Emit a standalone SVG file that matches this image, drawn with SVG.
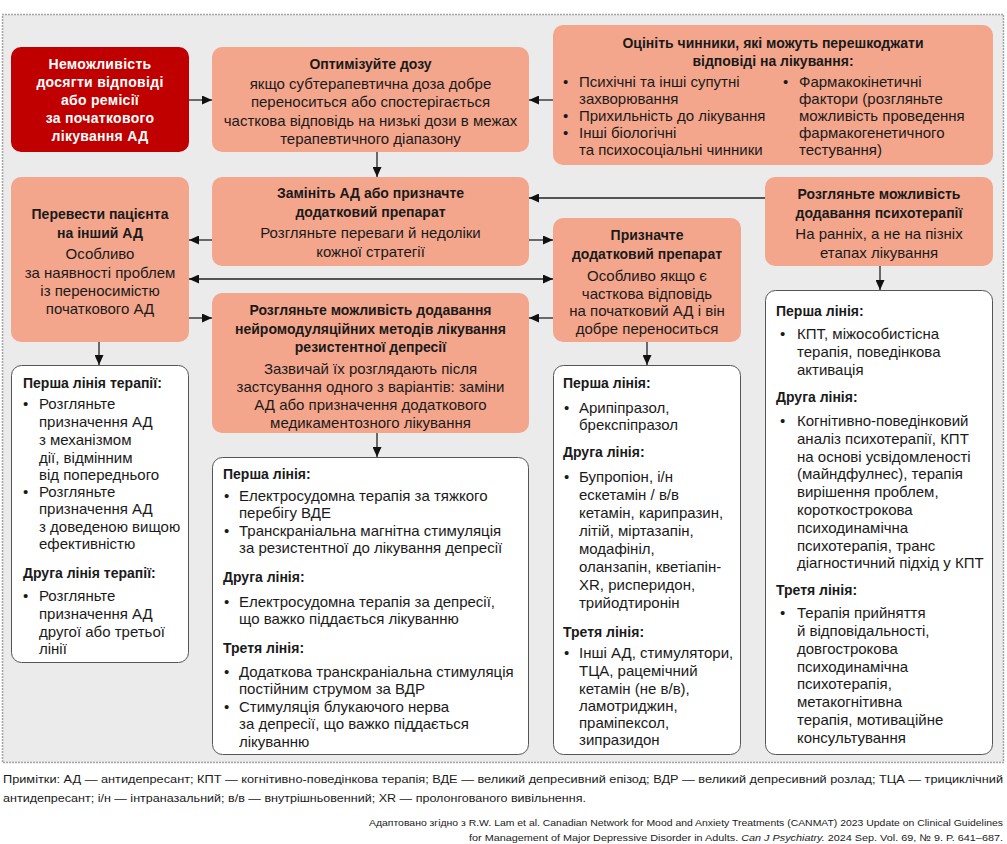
<svg xmlns="http://www.w3.org/2000/svg" width="1007" height="844" viewBox="0 0 1007 844">
<defs>
<style>
text{font-family:"Liberation Sans",Arial,sans-serif;font-size:15px;fill:#1a1a1a}
.h{font-weight:bold;font-size:14px}
.c{text-anchor:middle}
.wt{fill:#fff;letter-spacing:0.3px}
.sal{fill:#f4a68c}
.red{fill:#c00000}
.wb{fill:#fff;stroke:#555;stroke-width:1}
.con{fill:none;stroke:#222;stroke-width:1.3}
.foot{font-size:11.5px}
.cite{font-size:9.8px}
</style>
<marker id="ah" viewBox="0 0 10 9" refX="10" refY="4.5" markerWidth="10" markerHeight="9" markerUnits="userSpaceOnUse" orient="auto-start-reverse">
<path d="M0,0 L10,4.5 L0,9 z" fill="#111"/>
</marker>
</defs>
<rect x="0" y="0" width="1007" height="844" fill="#fff"/>
<rect x="2.5" y="14.5" width="1001" height="748" fill="#ebebeb" stroke="#555" stroke-width="1.5" stroke-dasharray="1 2"/>

<g id="n-start">
<rect class="red" x="11" y="47" width="178" height="105" rx="10"/>
<text class="h c wt"><tspan x="100" y="69">Неможливість</tspan><tspan x="100" y="87">досягти відповіді</tspan><tspan x="100" y="105">або ремісії</tspan><tspan x="100" y="123">за початкового</tspan><tspan x="100" y="141">лікування АД</tspan></text>
</g>

<g id="n-optimize">
<rect class="sal" x="212" y="47" width="317" height="105" rx="10"/>
<text class="h c" x="370.5" y="69">Оптимізуйте дозу</text>
<text class="c"><tspan x="370.5" y="89">якщо субтерапевтична доза добре</tspan><tspan x="370.5" y="107">переноситься або спостерігається</tspan><tspan x="370.5" y="126">часткова відповідь на низькі дози в межах</tspan><tspan x="370.5" y="144">терапевтичного діапазону</tspan></text>
</g>

<g id="n-factors">
<rect class="sal" x="553" y="25" width="440" height="140" rx="10"/>
<text class="h c"><tspan x="773" y="48">Оцініть чинники, які можуть перешкоджати</tspan><tspan x="773" y="66">відповіді на лікування:</tspan></text>
<text><tspan x="563" y="87">•</tspan><tspan x="563" y="121">•</tspan><tspan x="563" y="138">•</tspan><tspan x="783" y="87">•</tspan></text>
<text><tspan x="579" y="87">Психічні та інші супутні</tspan><tspan x="579" y="104">захворювання</tspan><tspan x="579" y="121">Прихильність до лікування</tspan><tspan x="579" y="138">Інші біологічні</tspan><tspan x="579" y="155">та психосоціальні чинники</tspan></text>
<text><tspan x="799" y="87">Фармакокінетичні</tspan><tspan x="799" y="104">фактори (розгляньте</tspan><tspan x="799" y="121">можливість проведення</tspan><tspan x="799" y="138">фармакогенетичного</tspan><tspan x="799" y="155">тестування)</tspan></text>
</g>

<g id="n-switch-or-add">
<rect class="sal" x="212" y="177" width="317" height="89" rx="10"/>
<text class="h c"><tspan x="370.5" y="198">Замініть АД або призначте</tspan><tspan x="370.5" y="217">додатковий препарат</tspan></text>
<text class="c"><tspan x="370.5" y="238">Розгляньте переваги й недоліки</tspan><tspan x="370.5" y="257">кожної стратегії</tspan></text>
</g>

<g id="n-switch">
<rect class="sal" x="11" y="177" width="178" height="165" rx="10"/>
<text class="h c"><tspan x="100" y="219">Перевести пацієнта</tspan><tspan x="100" y="238">на інший АД</tspan></text>
<text class="c"><tspan x="100" y="259">Особливо</tspan><tspan x="100" y="278">за наявності проблем</tspan><tspan x="100" y="296">із переносимістю</tspan><tspan x="100" y="314">початкового АД</tspan></text>
</g>

<g id="n-psychotherapy">
<rect class="sal" x="765" y="177" width="228" height="89" rx="10"/>
<text class="h c"><tspan x="879" y="199">Розгляньте можливість</tspan><tspan x="879" y="218">додавання психотерапії</tspan></text>
<text class="c"><tspan x="879" y="239">На ранніх, а не на пізніх</tspan><tspan x="879" y="258">етапах лікування</tspan></text>
</g>

<g id="n-add">
<rect class="sal" x="553" y="218" width="188" height="124" rx="10"/>
<text class="h c"><tspan x="647" y="240">Призначте</tspan><tspan x="647" y="259">додатковий препарат</tspan></text>
<text class="c"><tspan x="647" y="281">Особливо якщо є</tspan><tspan x="647" y="299">часткова відповідь</tspan><tspan x="647" y="316">на початковий АД і він</tspan><tspan x="647" y="334">добре переноситься</tspan></text>
</g>

<g id="n-neuromod">
<rect class="sal" x="212" y="293" width="317" height="140" rx="10"/>
<text class="h c"><tspan x="370.5" y="315">Розгляньте можливість додавання</tspan><tspan x="370.5" y="334">нейромодуляційних методів лікування</tspan><tspan x="370.5" y="352">резистентної депресії</tspan></text>
<text class="c"><tspan x="370.5" y="374">Зазвичай їх розглядають після</tspan><tspan x="370.5" y="392">застсування одного з варіантів: заміни</tspan><tspan x="370.5" y="410">АД або призначення додаткового</tspan><tspan x="370.5" y="428">медикаментозного лікування</tspan></text>
</g>

<g id="n-switch-list">
<rect class="wb" x="11.5" y="365.5" width="177" height="297" rx="10"/>
<text class="h"><tspan x="23" y="388">Перша лінія терапії:</tspan><tspan x="23" y="578">Друга лінія терапії:</tspan></text>
<text><tspan x="23" y="409">•</tspan><tspan x="23" y="497">•</tspan><tspan x="23" y="601">•</tspan></text>
<text><tspan x="39" y="409">Розгляньте</tspan><tspan x="39" y="427">призначення АД</tspan><tspan x="39" y="445">з механізмом</tspan><tspan x="39" y="463">дії, відмінним</tspan><tspan x="39" y="480">від попереднього</tspan><tspan x="39" y="497">Розгляньте</tspan><tspan x="39" y="514">призначення АД</tspan><tspan x="39" y="532">з доведеною вищою</tspan><tspan x="39" y="549">ефективністю</tspan><tspan x="39" y="601">Розгляньте</tspan><tspan x="39" y="619">призначення АД</tspan><tspan x="39" y="637">другої або третьої</tspan><tspan x="39" y="654">лінії</tspan></text>
</g>

<g id="n-neuromod-list">
<rect class="wb" x="212.5" y="457.5" width="316" height="297" rx="10"/>
<text class="h"><tspan x="223" y="479">Перша лінія:</tspan><tspan x="223" y="582">Друга лінія:</tspan><tspan x="223" y="653">Третя лінія:</tspan></text>
<text><tspan x="224" y="501">•</tspan><tspan x="224" y="536">•</tspan><tspan x="224" y="607">•</tspan><tspan x="224" y="677">•</tspan><tspan x="224" y="712">•</tspan></text>
<text><tspan x="239" y="501">Електросудомна терапія за тяжкого</tspan><tspan x="239" y="518">перебігу ВДЕ</tspan><tspan x="239" y="536">Транскраніальна магнітна стимуляція</tspan><tspan x="239" y="553">за резистентної до лікування депресії</tspan><tspan x="239" y="607">Електросудомна терапія за депресії,</tspan><tspan x="239" y="624">що важко піддається лікуванню</tspan><tspan x="239" y="677">Додаткова транскраніальна стимуляція</tspan><tspan x="239" y="694">постійним струмом за ВДР</tspan><tspan x="239" y="712">Стимуляція блукаючого нерва</tspan><tspan x="239" y="729">за депресії, що важко піддається</tspan><tspan x="239" y="747">лікуванню</tspan></text>
</g>

<g id="n-add-list">
<rect class="wb" x="553.5" y="365.5" width="187" height="389" rx="10"/>
<text class="h"><tspan x="563" y="388">Перша лінія:</tspan><tspan x="563" y="457">Друга лінія:</tspan><tspan x="563" y="637">Третя лінія:</tspan></text>
<text><tspan x="564" y="413">•</tspan><tspan x="564" y="482">•</tspan><tspan x="564" y="658">•</tspan></text>
<text><tspan x="579" y="413">Арипіпразол,</tspan><tspan x="579" y="430">брекспіпразол</tspan><tspan x="579" y="482">Бупропіон, і/н</tspan><tspan x="579" y="500">ескетамін / в/в</tspan><tspan x="579" y="518">кетамін, карипразин,</tspan><tspan x="579" y="536">літій, міртазапін,</tspan><tspan x="579" y="554">модафініл,</tspan><tspan x="579" y="572">оланзапін, кветіапін-</tspan><tspan x="579" y="590">XR, рисперидон,</tspan><tspan x="579" y="608">трийодтиронін</tspan><tspan x="579" y="658">Інші АД, стимулятори,</tspan><tspan x="579" y="676">ТЦА, рацемічний</tspan><tspan x="579" y="694">кетамін (не в/в),</tspan><tspan x="579" y="711">ламотриджин,</tspan><tspan x="579" y="728">праміпексол,</tspan><tspan x="579" y="745">зипразидон</tspan></text>
</g>

<g id="n-psychotherapy-list">
<rect class="wb" x="765.5" y="290.5" width="227" height="464" rx="10"/>
<text class="h"><tspan x="776" y="316">Перша лінія:</tspan><tspan x="776" y="402">Друга лінія:</tspan><tspan x="776" y="595">Третя лінія:</tspan></text>
<text><tspan x="780" y="339">•</tspan><tspan x="780" y="426">•</tspan><tspan x="780" y="618">•</tspan></text>
<text><tspan x="797" y="339">КПТ, міжособистісна</tspan><tspan x="797" y="357">терапія, поведінкова</tspan><tspan x="797" y="375">активація</tspan><tspan x="797" y="426">Когнітивно-поведінковий</tspan><tspan x="797" y="444">аналіз психотерапії, КПТ</tspan><tspan x="797" y="462">на основі усвідомленості</tspan><tspan x="797" y="479">(майндфулнес), терапія</tspan><tspan x="797" y="497">вирішення проблем,</tspan><tspan x="797" y="515">короткострокова</tspan><tspan x="797" y="533">психодинамічна</tspan><tspan x="797" y="551">психотерапія, транс</tspan><tspan x="797" y="568">діагностичний підхід у КПТ</tspan><tspan x="797" y="618">Терапія прийняття</tspan><tspan x="797" y="636">й відповідальності,</tspan><tspan x="797" y="654">довгострокова</tspan><tspan x="797" y="672">психодинамічна</tspan><tspan x="797" y="689">психотерапія,</tspan><tspan x="797" y="707">метакогнітивна</tspan><tspan x="797" y="725">терапія, мотиваційне</tspan><tspan x="797" y="743">консультування</tspan></text>
</g>

<g id="connectors" class="con">
<path d="M189,100 H212" marker-end="url(#ah)"/>
<path d="M553,100 H529" marker-end="url(#ah)"/>
<path d="M377,152 V177" marker-end="url(#ah)"/>
<path d="M765,198 H529" marker-end="url(#ah)"/>
<path d="M212,240 H189" marker-end="url(#ah)"/>
<path d="M529,240 H553" marker-end="url(#ah)"/>
<path d="M189,279 H553" marker-start="url(#ah)" marker-end="url(#ah)"/>
<path d="M189,318 H212" marker-end="url(#ah)"/>
<path d="M553,318 H529" marker-end="url(#ah)"/>
<path d="M99,342 V365" marker-end="url(#ah)"/>
<path d="M377,433 V457" marker-end="url(#ah)"/>
<path d="M647,342 V365" marker-end="url(#ah)"/>
<path d="M880,266 V290" marker-end="url(#ah)"/>
</g>

<g id="notes">
<text class="foot" x="3" y="783" textLength="1000" lengthAdjust="spacingAndGlyphs">Примітки: АД — антидепресант; КПТ — когнітивно-поведінкова терапія; ВДЕ — великий депресивний епізод; ВДР — великий депресивний розлад; ТЦА — трициклічний</text>
<text class="foot" x="3" y="802" textLength="583" lengthAdjust="spacingAndGlyphs">антидепресант; і/н — інтраназальний; в/в — внутрішньовенний; XR — пролонгованого вивільнення.</text>
<text class="cite" x="369" y="826" textLength="634" lengthAdjust="spacingAndGlyphs">Адаптовано згідно з R.W. Lam et al. Canadian Network for Mood and Anxiety Treatments (CANMAT) 2023 Update on Clinical Guidelines</text>
<text class="cite" x="469" y="841" textLength="534" lengthAdjust="spacingAndGlyphs">for Management of Major Depressive Disorder in Adults. <tspan font-style="italic">Can J Psychiatry.</tspan> 2024 Sep. Vol. 69, № 9. P. 641–687.</text>
</g>
</svg>
